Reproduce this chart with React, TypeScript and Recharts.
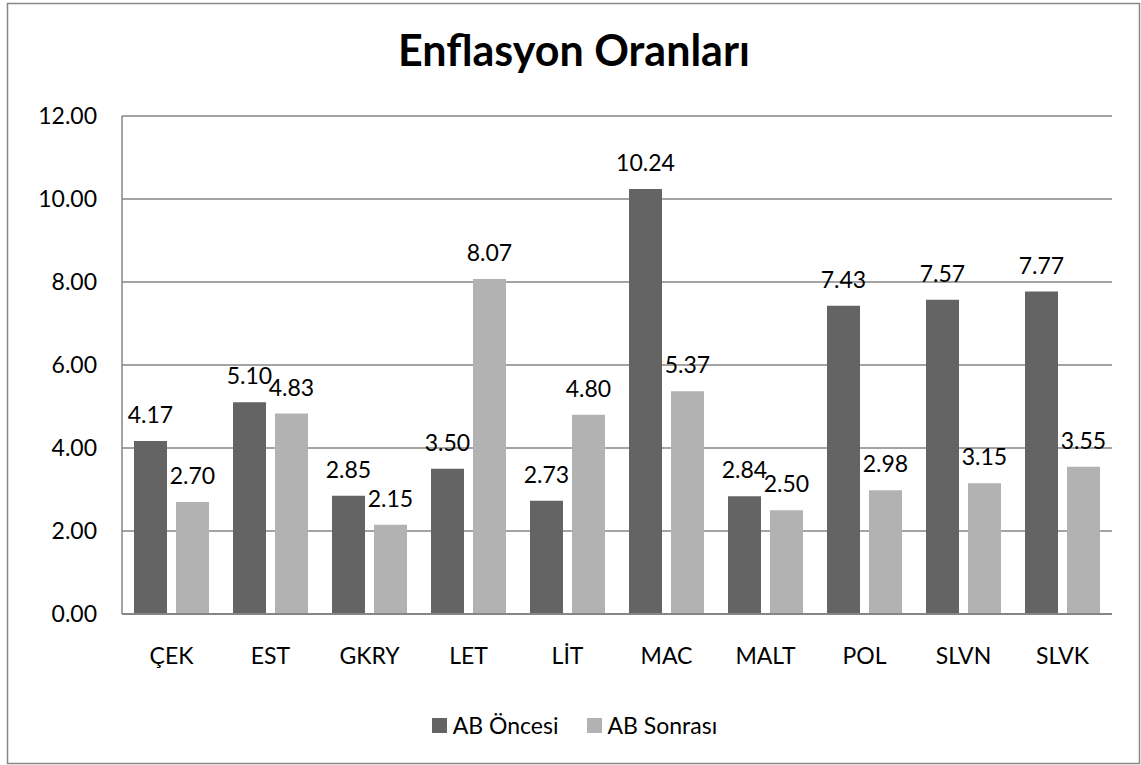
import { BarChart, Bar, XAxis, YAxis, CartesianGrid, Legend, LabelList } from "recharts";

// Inflation rates before / after EU membership
const countries = ["ÇEK", "EST", "GKRY", "LET", "LİT", "MAC", "MALT", "POL", "SLVN", "SLVK"];
const abOncesi = [4.17, 5.1, 2.85, 3.5, 2.73, 10.24, 2.84, 7.43, 7.57, 7.77];
const abSonrasi = [2.7, 4.83, 2.15, 8.07, 4.8, 5.37, 2.5, 2.98, 3.15, 3.55];
const yTicks = [0, 2, 4, 6, 8, 10, 12];

const seriesNames = { oncesi: "AB Öncesi", sonrasi: "AB Sonrası" };
const title = "Enflasyon Oranları";

const DARK = "#646464";
const LIGHT = "#b2b2b2";
const LINE = "#868686";

const data = countries.map((name, i) => ({
  name,
  oncesi: abOncesi[i],
  sonrasi: abSonrasi[i],
}));

const W = 1141;
const H = 765;

// Legend with square swatches, like the Excel one
function SquareLegend() {
  const items = [
    { label: seriesNames.oncesi, color: DARK },
    { label: seriesNames.sonrasi, color: LIGHT },
  ];
  return (
    <div style={{ display: "flex", justifyContent: "center", gap: 28, fontSize: 23, color: "#000", paddingLeft: 8 }}>
      {items.map((it) => (
        <div key={it.label} style={{ display: "flex", alignItems: "center" }}>
          <span style={{ width: 15, height: 15, background: it.color, marginRight: 6, display: "inline-block" }} />
          <span>{it.label}</span>
        </div>
      ))}
    </div>
  );
}

export default function App() {
  return (
    <div style={{ position: "absolute", left: 0, top: 0, width: W, height: H, fontFamily: "Lato, sans-serif", background: "#fff" }}>
      {/* chart frame + title */}
      <svg width={W} height={H} style={{ position: "absolute", left: 0, top: 0 }}>
        <rect x={7.5} y={3.5} width={1132} height={760} fill="#fff" stroke={LINE} strokeWidth={1.5} />
        <text x={574} y={66} textAnchor="middle" fontSize={43} fontWeight="bold" fill="#000">
          {title}
        </text>
      </svg>
      <div style={{ position: "absolute", left: 0, top: 0 }}>
        <BarChart
          width={W}
          height={H}
          data={data}
          margin={{ top: 116, right: 29, bottom: 121, left: 0 }}
          barCategoryGap={12}
          barGap={9}
        >
          <CartesianGrid vertical={false} stroke={LINE} strokeWidth={1.5} />
          <XAxis
            dataKey="name"
            height={30}
            tickLine={false}
            tickSize={0}
            tickMargin={34}
            axisLine={{ stroke: LINE, strokeWidth: 2 }}
            tick={{ fill: "#000", fontSize: 23 }}
          />
          <YAxis
            width={122}
            domain={[0, 12]}
            ticks={yTicks}
            tickLine={false}
            tickSize={0}
            tickMargin={25}
            axisLine={{ stroke: LINE, strokeWidth: 1.5 }}
            tick={{ fill: "#000", fontSize: 23 }}
            tickFormatter={(v: number) => v.toFixed(2)}
          />
          <Legend
            layout="horizontal"
            verticalAlign="middle"
            wrapperStyle={{ top: 711, left: 0, width: W }}
            content={<SquareLegend />}
          />
          <Bar dataKey="oncesi" name={seriesNames.oncesi} fill={DARK} isAnimationActive={false}>
            <LabelList
              dataKey="oncesi"
              position="top"
              offset={18}
              fill="#000"
              fontSize={23}
              formatter={(v: number) => Number(v).toFixed(2)}
            />
          </Bar>
          <Bar dataKey="sonrasi" name={seriesNames.sonrasi} fill={LIGHT} isAnimationActive={false}>
            <LabelList
              dataKey="sonrasi"
              position="top"
              offset={18}
              fill="#000"
              fontSize={23}
              formatter={(v: number) => Number(v).toFixed(2)}
            />
          </Bar>
        </BarChart>
      </div>
    </div>
  );
}
